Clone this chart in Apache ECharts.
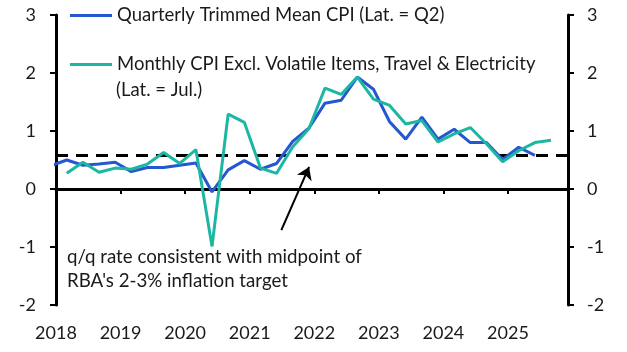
<!DOCTYPE html>
<html>
<head>
<meta charset="utf-8">
<script src="https://cdn.jsdelivr.net/npm/echarts@6/dist/echarts.min.js"></script>
<style>
  html, body { margin: 0; padding: 0; background: #fff; }
  #chart { width: 627px; height: 352px; }
</style>
</head>
<body>
<div id="chart"></div>
<script>
// quarterly points, plotted at the last month of each quarter
var trimmedDates = ['2017-12',
  '2018-03', '2018-06', '2018-09', '2018-12', '2019-03', '2019-06', '2019-09', '2019-12',
  '2020-03', '2020-06', '2020-09', '2020-12', '2021-03', '2021-06', '2021-09', '2021-12',
  '2022-03', '2022-06', '2022-09', '2022-12', '2023-03', '2023-06', '2023-09', '2023-12',
  '2024-03', '2024-06', '2024-09', '2024-12', '2025-03', '2025-06'];
var trimmedMean = [0.40,
  0.50, 0.41, 0.43, 0.46, 0.30, 0.37, 0.37, 0.41,
  0.45, -0.05, 0.33, 0.49, 0.34, 0.44, 0.82, 1.05,
  1.48, 1.53, 1.93, 1.72, 1.16, 0.86, 1.24, 0.86,
  1.03, 0.80, 0.80, 0.51, 0.72, 0.58];

var monthlyDates = [
  '2018-03', '2018-06', '2018-09', '2018-12', '2019-03', '2019-06', '2019-09', '2019-12',
  '2020-03', '2020-06', '2020-09', '2020-12', '2021-03', '2021-06', '2021-09', '2021-12',
  '2022-03', '2022-06', '2022-09', '2022-12', '2023-03', '2023-06', '2023-09', '2023-12',
  '2024-03', '2024-06', '2024-09', '2024-12', '2025-03', '2025-06', '2025-09'];
var monthlyExVol = [
  0.27, 0.46, 0.29, 0.36, 0.34, 0.43, 0.63, 0.44,
  0.68, -0.99, 1.29, 1.15, 0.36, 0.27, 0.73, 1.04,
  1.74, 1.63, 1.93, 1.55, 1.44, 1.12, 1.18, 0.81,
  0.95, 1.06, 0.78, 0.47, 0.66, 0.80, 0.84];

var yearTicks = [2018, 2019, 2020, 2021, 2022, 2023, 2024, 2025];
var targetRate = 0.58;

function toYear(s) {
  var p = s.split('-');
  return +p[0] + (+p[1] - 1) / 12;
}
function pairs(dates, vals) {
  return dates.map(function (d, i) { return [toYear(d), vals[i]]; });
}

var FONT = 'Lato';
var TXT = '#1a1a1a';
var chart = echarts.init(document.getElementById('chart'), null, { renderer: 'canvas' });

var option = {
  animation: false,
  textStyle: { fontFamily: FONT },
  grid: { left: 56, right: 59, top: 15, bottom: 47 },
  legend: {
    orient: 'vertical',
    left: 70,
    top: 6,
    padding: 0,
    itemGap: 30,
    itemWidth: 42,
    itemHeight: 3,
    icon: 'rect',
    selectedMode: false,
    textStyle: { fontFamily: FONT, fontSize: 18.5, color: TXT },
    data: ['Quarterly Trimmed Mean CPI (Lat. = Q2)',
           'Monthly CPI Excl. Volatile Items, Travel & Electricity']
  },
  xAxis: {
    type: 'value',
    min: yearTicks[0],
    max: 2025.93,
    interval: 1,
    axisLine: { lineStyle: { color: '#000', width: 3 } },
    axisTick: { length: 5, lineStyle: { color: '#000', width: 2 } },
    axisLabel: {
      margin: 19, fontFamily: FONT, fontSize: 18, color: TXT,
      formatter: function (v) { return yearTicks.indexOf(v) >= 0 ? String(v) : ''; }
    },
    splitLine: { show: false }
  },
  yAxis: [{
    type: 'value', min: -2, max: 3, interval: 1,
    axisLine: { show: true, lineStyle: { color: '#000', width: 3 } },
    axisTick: { show: true, length: 6, lineStyle: { color: '#000', width: 2 } },
    axisLabel: { margin: 20, fontFamily: FONT, fontSize: 18, color: TXT },
    splitLine: { show: false }
  }, {
    type: 'value', min: -2, max: 3, interval: 1, position: 'right',
    axisLine: { show: true, lineStyle: { color: '#000', width: 3 } },
    axisTick: { show: true, length: 6, lineStyle: { color: '#000', width: 2 } },
    axisLabel: { margin: 19, fontFamily: FONT, fontSize: 18, color: TXT },
    splitLine: { show: false }
  }],
  graphic: [
    { type: 'text', left: 116, top: 81,
      style: { text: '(Lat. = Jul.)', font: '18.5px ' + FONT, fill: TXT } },
    { type: 'text', left: 67, top: 247,
      style: { text: 'q/q rate consistent with midpoint of', font: '18.7px ' + FONT, fill: TXT } },
    { type: 'text', left: 67, top: 271,
      style: { text: "RBA's 2-3% inflation target", font: '18.7px ' + FONT, fill: TXT } }
  ],
  series: [{
    name: 'Quarterly Trimmed Mean CPI (Lat. = Q2)',
    type: 'line',
    data: pairs(trimmedDates, trimmedMean),
    showSymbol: false,
    color: '#2457D0',
    lineStyle: { width: 3, color: '#2457D0' },
    z: 3,
    markLine: {
      silent: true,
      symbol: 'none',
      label: { show: false },
      z: 2,
      data: [
        { yAxis: 0, lineStyle: { color: '#000', width: 3, type: 'solid' } },
        { yAxis: targetRate, lineStyle: { color: '#000', width: 3, type: [12, 8] } },
        [
          { coord: [2021.49, -0.71], symbol: 'none' },
          { coord: [2021.92, 0.38], symbol: 'arrow', symbolSize: 12,
            lineStyle: { color: '#000', width: 2, type: 'solid' } }
        ]
      ]
    }
  }, {
    name: 'Monthly CPI Excl. Volatile Items, Travel & Electricity',
    type: 'line',
    data: pairs(monthlyDates, monthlyExVol),
    showSymbol: false,
    color: '#1CB6A2',
    lineStyle: { width: 3, color: '#1CB6A2' },
    z: 4
  }]
};

chart.setOption(option);
</script>
</body>
</html>
